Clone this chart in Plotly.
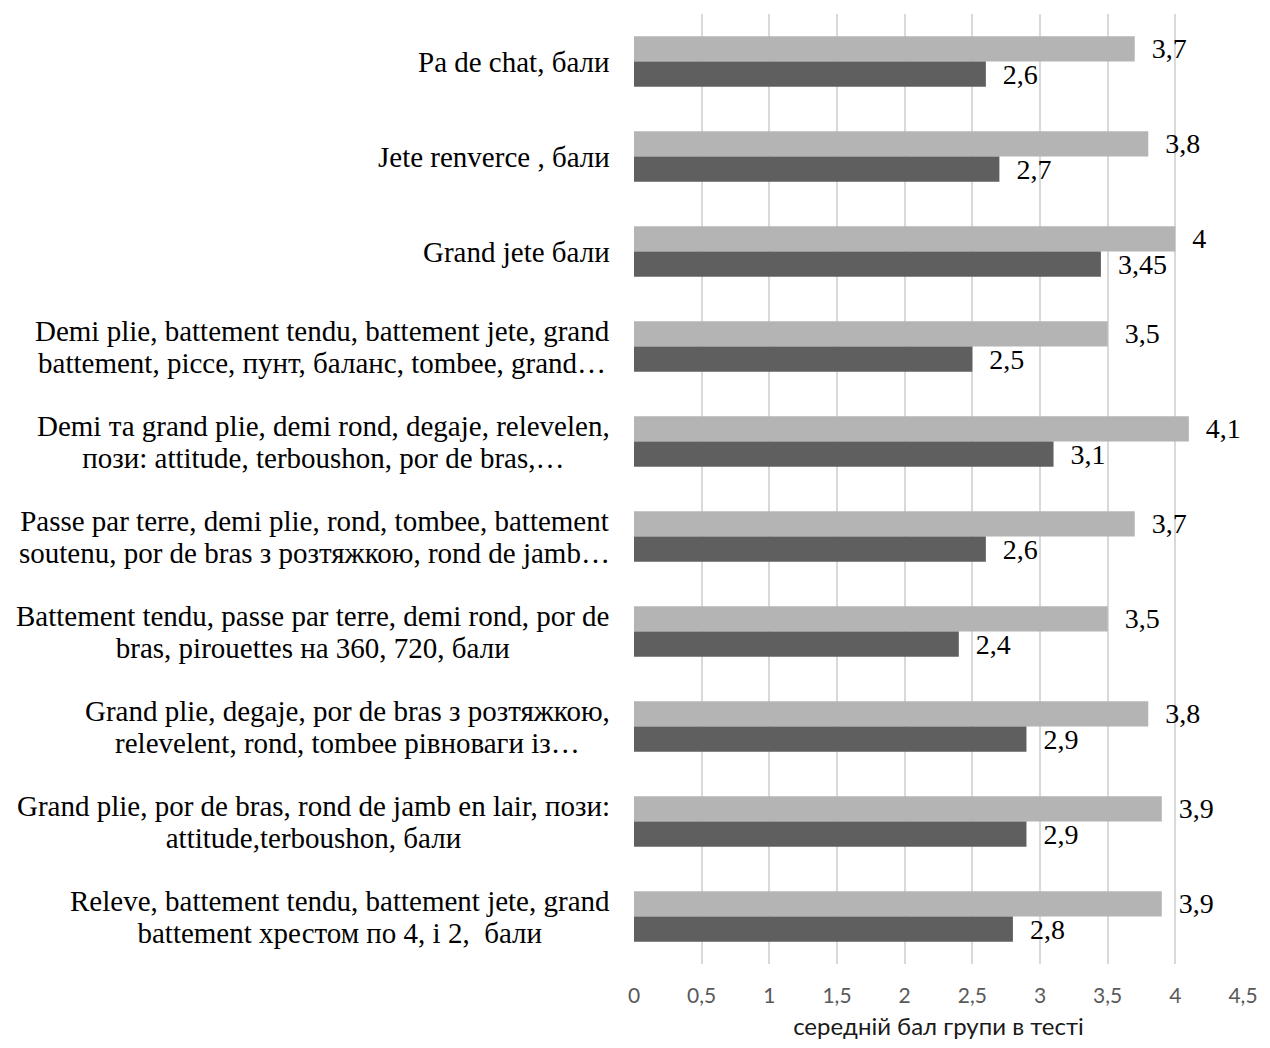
import plotly.graph_objects as go

categories = [
    "Pa de chat, бали",
    "Jete renverce , бали",
    "Grand jete бали",
    "Demi plie, battement tendu, battement jete, grand<br>battement, picce, пунт, баланс, tombee, grand…",
    "Demi та grand plie, demi rond, degaje, relevelen,<br>пози: attitude, terboushon, por de bras,…",
    "Passe par terre, demi plie, rond, tombee, battement<br>soutenu, por de bras з розтяжкою, rond de jamb…",
    "Battement tendu, passe par terre, demi rond, por de<br>bras, pirouettes на 360, 720, бали",
    "Grand plie, degaje, por de bras з розтяжкою,<br>relevelent, rond, tombee рівноваги із…",
    "Grand plie, por de bras, rond de jamb en lair, пози:<br>attitude,terboushon, бали",
    "Releve, battement tendu, battement jete, grand<br>battement хрестом по 4, і 2,  бали",
]
series_light = [3.7, 3.8, 4.0, 3.5, 4.1, 3.7, 3.5, 3.8, 3.9, 3.9]
series_dark = [2.6, 2.7, 3.45, 2.5, 3.1, 2.6, 2.4, 2.9, 2.9, 2.8]
x_tick_vals = [0, 0.5, 1, 1.5, 2, 2.5, 3, 3.5, 4, 4.5]
x_title = "середній бал групи в тесті"

SERIF = "Liberation Serif, Times New Roman, serif"
SANS = "Lato, Carlito, Calibri, sans-serif"


def fmt(v):
    return "\u00a0\u00a0" + f"{v:g}".replace(".", ",")


label_font = dict(family=SERIF, size=28, color="#000000")

fig = go.Figure()
fig.add_trace(go.Bar(
    y=categories, x=series_light, orientation="h",
    marker=dict(color="#b4b4b4", line=dict(width=0)),
    text=[fmt(v) for v in series_light], textposition="outside",
    textfont=label_font, cliponaxis=False, constraintext="none",
    showlegend=False,
))
fig.add_trace(go.Bar(
    y=categories, x=series_dark, orientation="h",
    marker=dict(color="#5f5f5f", line=dict(width=0)),
    text=[fmt(v) for v in series_dark], textposition="outside",
    textfont=label_font, cliponaxis=False, constraintext="none",
    showlegend=False,
))

annotations = []
for c in categories:
    styled = "<br>".join(
        '<span style="font-size:29px">' + line + "</span>" for line in c.split("<br>")
    )
    annotations.append(dict(
        x=0, xref="paper", y=c, yref="y", xanchor="right", yanchor="middle",
        xshift=-22, text=styled, showarrow=False, align="center",
        font=dict(family=SERIF, size=24.5, color="#000000"),
    ))

fig.update_layout(
    width=1270, height=1048,
    margin=dict(l=634, r=19, t=14, b=83),
    paper_bgcolor="white", plot_bgcolor="white",
    barmode="group", bargap=0.47, bargroupgap=0,
    separators=", ",
    annotations=annotations,
    xaxis=dict(
        range=[0, 4.5], tickvals=x_tick_vals, showgrid=True,
        gridcolor="#d9d9d9", gridwidth=2, zeroline=False, showline=False,
        ticks="", ticklabelstandoff=17,
        tickfont=dict(family=SANS, size=21, color="#595959"),
        title=dict(text=x_title, standoff=12,
                   font=dict(family=SANS, size=24, color="#1a1a1a")),
    ),
    yaxis=dict(
        autorange="reversed", showticklabels=False, showgrid=False,
        zeroline=False, showline=False, ticks="",
    ),
)

fig.write_html("out.html")
